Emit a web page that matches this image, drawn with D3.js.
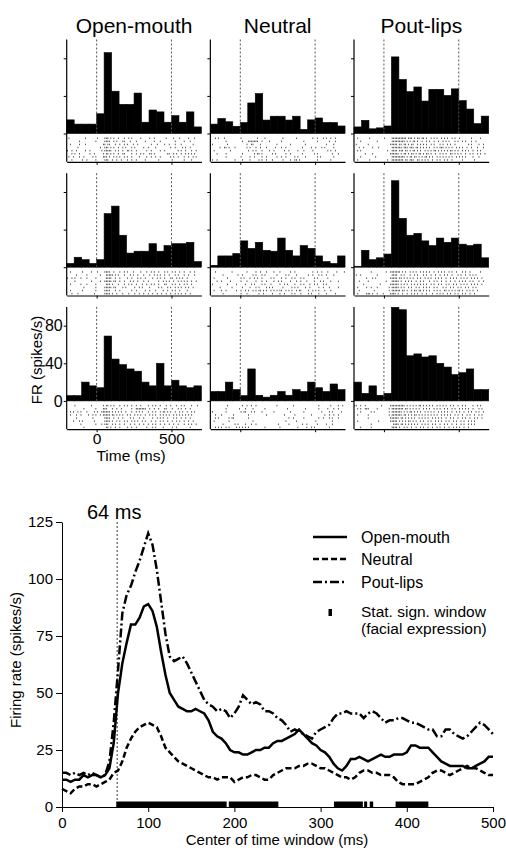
<!DOCTYPE html>
<html lang="en">
<head>
<meta charset="UTF-8">
<title>Face cell responses</title>
<style>
  body { margin: 0; background: #fff; }
  svg text { font-family: "Liberation Sans", Arial, Helvetica, sans-serif; fill: #000; }
</style>
</head>
<body></body>
<script src="https://cdn.jsdelivr.net/npm/d3@7"></script>
<script>
// ---------- data ----------
const conditions = ["Open-mouth", "Neutral", "Pout-lips"];

// PSTH bins (50 ms), start time of each bin
const binStarts = [-200, -150, -100, -50, 0, 50, 100, 150, 200, 250, 300, 350, 400, 450, 500, 550, 600, 650];
const binWidth = 50;

// firing rate per bin, one array per stimulus set (rows 1..3)
const histOpen = [
  [14.5, 10, 10, 10, 21, 86, 45, 31, 31, 43, 12, 25, 23, 12, 19, 12, 23, 7],
  [4, 10.6, 8, 4, 8, 57, 65, 34, 15, 17, 17, 25, 17, 23, 25, 25, 26.5, 6],
  [5.6, 5.6, 20, 16, 14, 69, 44.5, 38.6, 34, 31.6, 20, 16, 40, 16, 22, 16, 14, 16]
];
const histNeutral = [
  [10, 16, 12.5, 7.7, 11.7, 32.5, 42.5, 14.3, 18.4, 18.4, 14.3, 18.4, 4.3, 14.5, 16.5, 11.7, 11.7, 8],
  [2, 12, 12, 14.5, 28, 20, 26.5, 18, 17, 31, 18, 12, 23, 20, 12, 6, 4, 12],
  [10, 10, 20, 12, 5.6, 34, 6, 4, 6, 10, 6, 12, 10, 20, 14, 10, 18, 12]
];
const histPout = [
  [7, 14, 5, 6, 8, 81.5, 57.5, 44.5, 49.5, 34.5, 47, 47, 40.5, 47.5, 35, 26, 10.5, 18.5],
  [1, 18, 8, 10, 14, 92, 52, 34, 36, 28, 23, 31, 26.5, 31, 24.5, 23, 24.5, 10],
  [20, 8, 16, 6, 8, 99.5, 97, 48, 50, 46.7, 48, 40, 36, 28, 30, 34, 12, 12]
];

// rasters: one string per trial, each character = 10 ms starting at -200 ms, '|' = spike
const rasterOpen = [
  [".|..........|.......|....|||.|.|..|...|..|.|.....|.....|..|.......|....|...|.....|...|....",
   "........|..........|.....||||..|.|...||...|...|.....|.....|...|.........|.....|...|.......",
   "..|.....|...|...........||.||...|..|..|.|...|..|........|...|....|..|...|...|.......|.....",
   ".......|..............|..|||.|.|..|..|.|...|.|.....|..|....|.........|..|....|.|..|......",
   "|..|..|.....|..|.......|.|||||..|.|..|..||.|..|......|..|.....|..|........|.|..|...|..|...",
   "...|.|..|......|..|.....|.||.|.|..|..||....|..|..|.|...||.|........||..|.|..|..|.|.|.|...",
   ".|..|...|..|.....|.|....|||.|..|.|.|..|.|..|....|....|..|..|..|......|.|..|...|..|..|.|..",
   "...|......|..|.....|.....|||..|..|..|...|..|..|.....|........|........|.......|....|....."],
  ["..|.......|.....|...|....||||..|...|..|.|...|....|...|..|.|..|...|.|..|.|..|..|...|..|...",
   "......|......|........|...|||||.|.|...|...|.|..|...|...|..|.|.|..|..|...|.|...|..|...|....",
   "|..|.|...|...|.....|......||||..|..|....|..|...|.|..|....|..|.|..|...||..|.|.|..|........",
   ".....|..........|.....|..|||||.||..|..|...|.|..|...|..|......|..|.|.|..|..|.|.|.|..|..|..",
   "..|......|...|.....|......|||.|...|...|..|.|..|...|..|..|.|..|...||...|.|..|..|.|..|.....",
   "...........|.......|.....|||||.||....|.|.....|..|.|....|.....|.|...|.|..|.|.|..|.|..|....",
   "..|.......|........|.....||||...|..|.......|..|.....|..|...|....|..|..|.|..|....|........",
   "...|...|..........|......||||.|..|...|...|...|..|..|..|..|..|..|..|..|..|.|.|..|..|......"],
  [".....|..........|.......|.||.|.|...|..|.|..|..|..|....|..|.|..|...|..|...|..|.|....|...|.",
   "...........|.......|....|||...|..|..|......|..|||||||..|..|..|...||...|...|.|..|..|......",
   "..|.|..|.|...|....|.|..||||||.|.|.|.|..|...|..|.|.|...|..|.|..|.||.|.|..|..|.|..|..|.|...",
   "..|...|..|....|..|.|..|.|||||.||.|.|.|..|.|..|.|.|..|..|.|.|..|.|.|.|..|.|.|.|.|.|.|.....",
   "......|..........|.......||||..|..|..|....|.|...|..|.....|..|.|.|..|...|.|..|..|..|......",
   "....|...|.|.......|......||||.|..|.|..|.|..|.|.|..|.|...|..|..|.|..|..|..|.|..|..|..|....",
   ".........|.........|...|.|||..|.|..|..|...|..|..|..|..|..|.|..|..|..|..|..|...|..|.|..|..",
   "...........|..............||.|..|..|....|..|..|......|...|.|....|.....|..|........|......"]
];
const rasterNeutral = [
  ["...|.|...|..........|..........|....|...........|........|..........|..|...|.|..|..|.....",
   "..........|..........|...|||||||..|....|.......|..............|........|.......|...|.....",
   ".|.........|............|..||....|..........|........|.........|.............|....|......",
   "......|..||.|...|.......|.|...|..|...|.....|...|..|..........|.....|..|...|.|.....|......",
   "..|..........|...........|..|.|...|....|..|......|..|.....|...|.....|.........|.|..|.....",
   "....|.....|..........|.......|.||.|......|.|......|..|.......|.......|.|.........|...|....",
   "..........|.........|.....|..|....|..|......|..|..|.....|.|....|.......|.|........|.......",
   ".|..|...........|....|....|.....|.|..|...|......|....|..||.|...........|........|........"],
  ["...|..........|.........|.....|..|...|....|...|......|..|...........|..|..|...|.....|....|",
   "........|.........|..|......|.|...|.|.......|.....|.|....|.......|..|...|.|..|....|.......",
   "..|........|........|.|...|..|.|..|.....|.|....|..|...|.|...|.|......|.|......|..........",
   "....|..|.....|......|...|.....|...|..|....|..|.|.....|...|..|...|....|...|.|....|....|....",
   ".|.........|.....|.....|...|.|....|.|...|.....|..|.|....|...|.|...|..|.|...|.|...........",
   "......|.......|......|....|...|.|....|.|.|......|.....|.|.|....|..|.....|..|...|.....|....",
   "..|....|..|......|..|..|.|..|.|.||.|.|..|.|.|.||..|.|.|..|.||....|..|.|.|...|...|........",
   "........|...........|...|.......|..|.....|....|..|....|.|...|....|.|....|....|.....|......"],
  ["...........|.........|..|..|..|.............|..........|................|.......|....|..|",
   "..........|........|...|....|.......|..............|...........|........|.....|...|..|...",
   ".|........|.........|.||...|.|....|.......|..........|........|...........|....|.|.....|.",
   "...|...|.......|.........|...........|...........|......|..........|........|..|..|..|...",
   "...|.|......|.||.........|..........................|..|......|.........|..|...|.|...|...",
   "..|.........|...............|.....................|......|............|..........|.......",
   "........|.......|.|....|...|..|..............|......|........|..|......|.....|...|.......",
   "...|.|.|..|.|....|.|.|.|.|..........|.........|...........|.....|..|.|.........|........."]
];
const rasterPout = [
  ["..|.......|.........|....||||||||||.|||.|.||.||.|..|.|.|..|.|.|..|.|..|.......|.....|....",
   "....|..........|.........|||||||||.|.|.||.|..|..|.|..|..|..|.|.|...|.|..|.|...|..|.......",
   ".|.......|..............|||||.||.||.|.||..|.|.|.|..|.|...|.|..|.|..|........|.|....|..|..",
   "...|..|.....|...|........|||||||.|||.|||.||.|.|.|.|..|.|.|||.|.|.|..|.|.|..|..|...|...|..",
   "..|.|.................|..||||.|||.||.|.||.|.|..|.|.|.||.|.|.|.|.||.|.|..|.|.|..|..|.|....",
   ".......|....|...........||||||.|.||.|.||.|.||.|.||.|..|..|.|.|..||.|.|.|..|..|.|..|.|..|.",
   "....|.........|..........|||||||||.|.||.||.|.|.||.|.|..|.|.|.|.|.|..|.|.|.|....|...|.....",
   "..|.......|...........|..||||||||.||.|||..||.|.|.|..|..|.|..|.|..|......|.......|........"],
  ["...........|.........|..|||||||.|.|..|.|.|..|.|.|.|..|..|.|.|..|.|..|...|.|..|......|.....",
   ".|..|..........|.........||||..|.|...|..|.|...|.|..|..|..|..|.|..|...|.|..|..|.|.|........",
   "........|...|.|.........|||||.||.|.|.|.|..|.|..|.|.|..|.|.|..|..|.|.|..|.|.|..|.|.|..|...",
   "...|.....|...........|...|||||.|..|.|.|..|..|.|...|..|.|..|..|..|..|..|.|.|..|.|...|..|..",
   "......|..........|......||||||.|.|.|..|.|.|.|.|.|..|.|..|.|..|.|..|.|..|.|.|..|.|.|..|...",
   "..|.....|..|...|.......|.|||||.|.|..|.|..|.|..|.|.|..|.|...|.|..|.|..|.|..|.|..|.|.......",
   "...|.........|.........|.||||||.||.|..|.||.||.|.|.|..|.|.|..||.|.|.|.||.|..|.|.|..|......",
   "..|.....|||.|..|...|....||||.|..|..|..|.|.|..|..|...|..|.|.|..|.|..|.|..|.|..|..|........"],
  ["||..|..|..........|.....||||||||||.|.|.|.|.||.|.|.|.|..|.|.|.|..|.|..|..|.|....|..|.|....",
   "..|.|..|||.....|.......|.||||||||.||.|.|.|.|..|.|.|..|.|.|..|.|..|.|..|.|.|.|..|...|.|...",
   "....|......|.|.........|.|||||||.|.|.||.|.|.|..|.|.|.|..|.|.|.|..|..|.|..|..|.|..|.|..|..",
   "..|......|.............|.|||||||.||.|.|.||.|.|.|.|.|.|.|..|.|.|.|..|.|..|..|.|..|..|.|....",
   ".........|..............||||||.||.|.|.|.|..|.|.|.|..|.|.|.|..|..|.|..|..|.|..|..|.|..|...",
   "..|.............|.......|||||.|.|.|.||.|.|..|.|..|.|..|.|.|..|.|..|.|..|.|..|.|.|........",
   "...........|..............||||.||.|.|.|.|.|..|.|.|..|.|..|..|.|..|..|..|.|..|.|.|........",
   "....|......|.............||||.|..|.|..|..|..|.|..|..|..|.|..|..|..|.|.|..|..|............"]
];

const histTicks = [0, 40, 80];
const timeTicks = [0, 500];

// sliding-window firing rate (center of window, ms)
const windowCenters = [0, 5, 10, 15, 20, 25, 30, 35, 40, 45, 50, 55, 60, 65, 70, 75, 80, 85, 90, 95,
  100, 105, 110, 115, 120, 125, 130, 135, 140, 145, 150, 155, 160, 165, 170, 175, 180, 185, 190, 195,
  200, 205, 210, 215, 220, 225, 230, 235, 240, 245, 250, 255, 260, 265, 270, 275, 280, 285, 290, 295,
  300, 305, 310, 315, 320, 325, 330, 335, 340, 345, 350, 355, 360, 365, 370, 375, 380, 385, 390, 395,
  400, 405, 410, 415, 420, 425, 430, 435, 440, 445, 450, 455, 460, 465, 470, 475, 480, 485, 490, 495, 500];
const frOpen = [12, 12, 11, 12, 12, 14, 13, 14, 14, 13,
  14, 17, 28, 50, 63, 72, 80, 80, 83, 88,
  89, 86, 79, 68, 58, 50, 47, 44, 43, 42,
  42, 43, 42, 41, 38, 33, 31, 30, 28, 25,
  24, 24, 23, 23, 24, 25, 25, 26, 26, 28,
  29, 29, 30, 31, 32, 34, 32, 30, 28, 27,
  25, 24, 22, 19, 17, 16, 18, 21, 21, 22,
  21, 20, 21, 22, 23, 22, 22, 23, 23, 23,
  24, 27, 27, 26, 26, 26, 24, 22, 20, 19,
  18, 18, 18, 18, 17, 17, 18, 19, 20, 22, 22];
const frNeutral = [8, 7, 6, 8, 9, 9, 10, 10, 9, 10,
  11, 12, 15, 16, 20, 26, 30, 33, 35, 36,
  37, 36, 35, 31, 26, 24, 22, 20, 19, 18,
  17, 16, 15, 14, 13, 13, 12, 13, 13, 13,
  11, 12, 13, 13, 14, 14, 13, 12, 12, 14,
  15, 16, 17, 17, 17, 18, 18, 19, 19, 18,
  17, 17, 16, 15, 14, 13, 13, 12, 13, 15,
  16, 16, 15, 15, 14, 14, 14, 13, 11, 10,
  10, 10, 10, 11, 12, 13, 15, 16, 16, 15,
  14, 15, 16, 17, 18, 17, 17, 16, 15, 14, 14];
const frPout = [15, 15, 14, 15, 14, 15, 14, 15, 14, 13,
  14, 20, 37, 60, 85, 93, 97, 103, 108, 114,
  120, 115, 104, 90, 76, 66, 64, 65, 66, 63,
  59, 55, 51, 47, 45, 44, 42, 43, 42, 39,
  41, 44, 49, 47, 45, 46, 45, 42, 42, 41,
  39, 38, 36, 33, 34, 33, 32, 31, 30, 33,
  34, 35, 36, 39, 41, 41, 42, 41, 41, 41,
  39, 41, 42, 41, 39, 37, 38, 38, 39, 39,
  38, 37, 37, 36, 35, 34, 34, 31, 31, 34,
  34, 32, 31, 30, 31, 33, 35, 37, 36, 34, 32];

// windows with significant effect of facial expression (ms)
const sigWindows = [[63, 191], [193.5, 251], [315.5, 349], [350.5, 354], [357, 361], [387, 425]];
const latency = 64;

const frTicksY = [0, 25, 50, 75, 100, 125];
const frTicksX = [0, 100, 200, 300, 400, 500];

// ---------- drawing ----------
const width = 506, height = 851;
const svg = d3.select("body").append("svg")
  .attr("width", width).attr("height", height);

const hists = [histOpen, histNeutral, histPout];
const rasters = [rasterOpen, rasterNeutral, rasterPout];

const panelW = 134.7, histH = 94, rasterH = 28.3;
const xT = d3.scaleLinear().domain([-200, 700]).range([0, panelW]);
const yH = d3.scaleLinear().domain([0, 100]).range([histH, 0]);

for (let c = 0; c < 3; c++) {
  svg.append("text")
    .attr("x", 66.7 + c * 143.65 + panelW / 2).attr("y", 33)
    .attr("text-anchor", "middle").style("font-size", "21px")
    .text(conditions[c]);

  for (let r = 0; r < 3; r++) {
    const g = svg.append("g")
      .attr("transform", `translate(${66.7 + c * 143.65},${39.5 + r * 133.7})`);

    // histogram
    g.selectAll("rect.bar").data(hists[c][r]).join("rect")
      .attr("class", "bar")
      .attr("x", (d, i) => xT(binStarts[i]))
      .attr("width", (d, i) => xT(binStarts[i] + binWidth) - xT(binStarts[i]))
      .attr("y", d => yH(d))
      .attr("height", d => histH - yH(d))
      .attr("fill", "#000").attr("stroke", "#000").attr("stroke-width", 0.6);

    // stimulus onset / offset
    g.selectAll("line.ev").data(timeTicks).join("line")
      .attr("class", "ev")
      .attr("x1", d => xT(d)).attr("x2", d => xT(d))
      .attr("y1", 0).attr("y2", histH)
      .attr("stroke", "#555").attr("stroke-width", 1).attr("stroke-dasharray", "2,2");

    // raster
    const spikes = [];
    rasters[c][r].forEach((row, k) => {
      for (let i = 0; i < Math.min(row.length, 90); i++) {
        if (row[i] === "|") spikes.push({ t: -200 + i * 10 + 5, k: k });
      }
    });
    g.selectAll("rect.sp").data(spikes).join("rect")
      .attr("class", "sp")
      .attr("x", d => xT(d.t) - 0.4).attr("width", 0.8)
      .attr("y", d => histH + 4 + d.k * 3.1).attr("height", 1.5)
      .attr("fill", "#333");

    // left axis
    const showLab = (r === 2 && c === 0);
    const ay = g.append("g").call(d3.axisLeft(yH).tickValues(histTicks).tickSize(3).tickSizeOuter(0)
      .tickFormat(showLab ? d3.format("d") : ""));
    ay.select(".domain").remove();
    ay.selectAll("text").style("font-size", "16px").attr("x", -4);
    g.append("line").attr("x1", 0).attr("x2", 0).attr("y1", 0).attr("y2", histH + rasterH)
      .attr("stroke", "#000").attr("stroke-width", 1.2);

    // bottom axis
    const ax = g.append("g").attr("transform", `translate(0,${histH + rasterH})`)
      .call(d3.axisBottom(xT).tickValues(timeTicks).tickSize(3).tickSizeOuter(0)
        .tickFormat(showLab ? d3.format("d") : ""));
    ax.select(".domain").attr("stroke-width", 1.2);
    ax.selectAll("text").style("font-size", "15.5px").attr("y", 3.5);
  }
}

svg.append("text")
  .attr("transform", "translate(42,360) rotate(-90)")
  .attr("text-anchor", "middle").style("font-size", "15px")
  .text("FR (spikes/s)");
svg.append("text")
  .attr("x", 131).attr("y", 461).attr("text-anchor", "middle").style("font-size", "15.5px")
  .text("Time (ms)");

// ---------- sliding window plot ----------
const x = d3.scaleLinear().domain([0, 500]).range([62, 493]);
const y = d3.scaleLinear().domain([0, 125]).range([807, 522]);

svg.append("g").attr("transform", "translate(0,807)")
  .call(d3.axisBottom(x).tickValues(frTicksX).tickSize(5).tickPadding(5).tickSizeOuter(0))
  .call(g => g.selectAll("text").style("font-size", "15px"));
svg.append("g").attr("transform", "translate(62,0)")
  .call(d3.axisLeft(y).tickValues(frTicksY).tickSize(6).tickPadding(3).tickSizeOuter(0))
  .call(g => g.selectAll("text").style("font-size", "15px"));

svg.append("line")
  .attr("x1", x(latency)).attr("x2", x(latency)).attr("y1", y(125)).attr("y2", y(0))
  .attr("stroke", "#000").attr("stroke-width", 0.8).attr("stroke-dasharray", "2,2");
svg.append("text").attr("x", 87).attr("y", 519).style("font-size", "20px").text(latency + " ms");

svg.selectAll("rect.sig").data(sigWindows).join("rect")
  .attr("class", "sig")
  .attr("x", d => x(d[0])).attr("width", d => x(d[1]) - x(d[0]))
  .attr("y", y(0) - 5.5).attr("height", 5.5).attr("fill", "#000");

const series = [
  { name: "Open-mouth", values: frOpen, dash: null },
  { name: "Neutral", values: frNeutral, dash: "6,3" },
  { name: "Pout-lips", values: frPout, dash: "9,3,2,3" }
];
const line = d3.line().x((d, i) => x(windowCenters[i])).y(d => y(d));

svg.selectAll("path.fr").data(series).join("path")
  .attr("class", "fr")
  .attr("d", d => line(d.values))
  .attr("fill", "none").attr("stroke", "#000").attr("stroke-width", 2.5)
  .attr("stroke-dasharray", d => d.dash);

// legend
const legY = [537, 559, 582];
series.forEach((s, i) => {
  svg.append("line").attr("x1", 313).attr("x2", 347).attr("y1", legY[i]).attr("y2", legY[i])
    .attr("stroke", "#000").attr("stroke-width", 2.5).attr("stroke-dasharray", s.dash);
  svg.append("text").attr("x", 361).attr("y", legY[i] + 5.5).style("font-size", "16px").text(s.name);
});
svg.append("rect").attr("x", 328.5).attr("y", 609).attr("width", 3.5).attr("height", 7).attr("fill", "#000");
svg.append("text").attr("x", 361).attr("y", 616.5).style("font-size", "15.5px").text("Stat. sign. window");
svg.append("text").attr("x", 361).attr("y", 634).style("font-size", "15.5px").text("(facial expression)");

svg.append("text")
  .attr("x", 277).attr("y", 845).attr("text-anchor", "middle").style("font-size", "15px")
  .text("Center of time window (ms)");
svg.append("text")
  .attr("transform", "translate(21,660) rotate(-90)")
  .attr("text-anchor", "middle").style("font-size", "15px")
  .text("Firing rate (spikes/s)");
</script>
</html>
